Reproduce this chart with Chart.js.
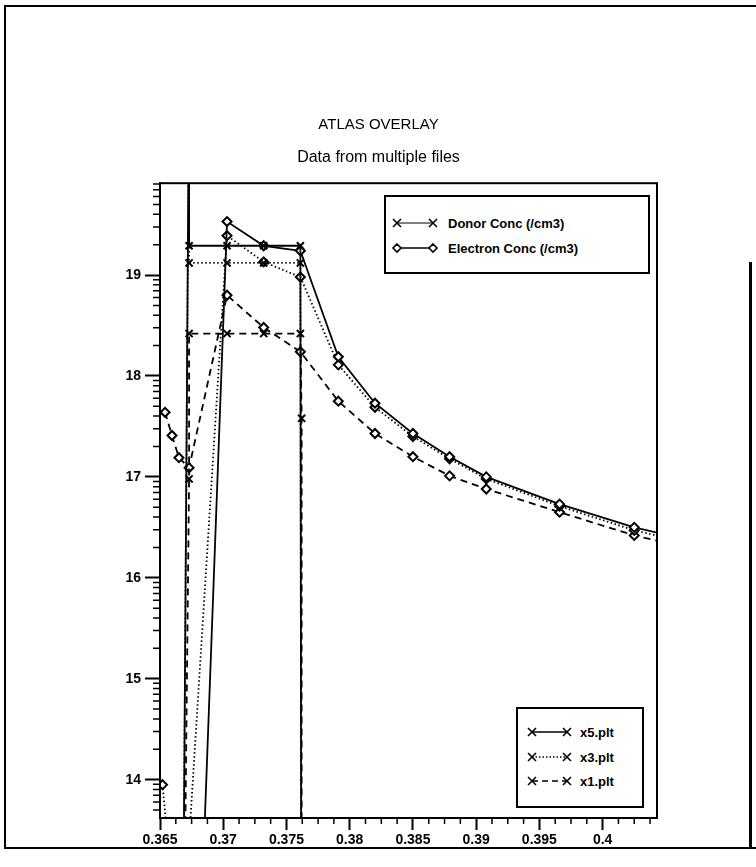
<!DOCTYPE html>
<html>
<head>
<meta charset="UTF-8">
<title>ATLAS OVERLAY</title>
<script src="https://cdn.jsdelivr.net/npm/chart.js"></script>
<style>
    body { margin: 0; background: #fff; }
    #wrap { position: relative; width: 756px; height: 867px; }
    #frame { position: absolute; left: 4px; top: 5px; width: 760px; height: 840px;
             border-left: 2px solid #000; border-top: 2px solid #000; border-bottom: 2px solid #000; }
    #rightbar { position: absolute; left: 749px; top: 262px; width: 3px; height: 585px; background: #000; }
    canvas { position: absolute; left: 0; top: 0; }
    svg.legend { position: absolute; }
    svg.legend text { font-family: "Liberation Sans", Arial, sans-serif; font-size: 13px; font-weight: bold; }
</style>
</head>
<body>
<div id="wrap">
    <div id="frame"></div>
    <div id="rightbar"></div>
    <canvas id="chart" width="756" height="867"></canvas>

    <!-- legend: quantities -->
    <svg class="legend" style="left:384px;top:195px" width="266" height="79">
        <rect x="1" y="1" width="264" height="77" fill="#fff" stroke="#000" stroke-width="2"/>
        <line x1="13" y1="28" x2="49" y2="28" stroke="#000" stroke-width="1.2"/>
        <path d="M9 24 L17 32 M17 24 L9 32 M45 24 L53 32 M53 24 L45 32" stroke="#000" stroke-width="1.6"/>
        <text x="64" y="33">Donor Conc (/cm3)</text>
        <line x1="13" y1="53" x2="49" y2="53" stroke="#000" stroke-width="1.4"/>
        <path d="M13 49 L17 53 L13 57 L9 53 Z M49 49 L53 53 L49 57 L45 53 Z" fill="#fff" stroke="#000" stroke-width="1.6"/>
        <text x="64" y="58">Electron Conc (/cm3)</text>
    </svg>

    <!-- legend: files -->
    <svg class="legend" style="left:516px;top:707px" width="128" height="101">
        <rect x="1" y="1" width="126" height="99" fill="#fff" stroke="#000" stroke-width="2"/>
        <g stroke="#000" stroke-width="1.6">
            <line x1="16" y1="25" x2="51" y2="25"/>
            <line x1="16" y1="50" x2="51" y2="50" stroke-dasharray="1.5 2"/>
            <line x1="16" y1="74" x2="51" y2="74" stroke-dasharray="6 4"/>
            <path d="M12 21 L20 29 M20 21 L12 29 M47 21 L55 29 M55 21 L47 29"/>
            <path d="M12 46 L20 54 M20 46 L12 54 M47 46 L55 54 M55 46 L47 54"/>
            <path d="M12 70 L20 78 M20 70 L12 78 M47 70 L55 78 M55 70 L47 78"/>
        </g>
        <text x="64" y="30">x5.plt</text>
        <text x="64" y="55">x3.plt</text>
        <text x="64" y="79">x1.plt</text>
    </svg>
</div>

<script>
    // tick values
    const xTicks = [0.365, 0.37, 0.375, 0.38, 0.385, 0.39, 0.395, 0.4];
    const yTicks = [14, 15, 16, 17, 18, 19];

    // donor concentration (log10 /cm3)
    const donorX5_x = [0.3667, 0.3673, 0.3673, 0.3703, 0.3732, 0.3761, 0.3762];
    const donorX5_y = [10.0, 21.0, 19.29, 19.29, 19.29, 19.29, 10.0];
    const donorX3_x = [0.3667, 0.3673, 0.3673, 0.3703, 0.3732, 0.3761, 0.3762];
    const donorX3_y = [10.0, 21.0, 19.12, 19.12, 19.12, 19.12, 10.0];
    const donorX1_x = [0.3667, 0.3673, 0.3673, 0.3703, 0.3732, 0.3761, 0.3762, 0.3762];
    const donorX1_y = [10.0, 16.98, 18.42, 18.42, 18.42, 18.42, 17.58, 10.0];

    // electron concentration (log10 /cm3)
    const elecX5_x = [0.3673, 0.3703, 0.3732, 0.3761, 0.3791, 0.3820, 0.3850, 0.3879, 0.3908, 0.3966, 0.4025, 0.4084];
    const elecX5_y = [9.4, 19.53, 19.29, 19.24, 18.19, 17.73, 17.43, 17.20, 17.00, 16.73, 16.50, 16.33];
    const elecX3_x = [0.3652, 0.3656, 0.3673, 0.3703, 0.3732, 0.3761, 0.3791, 0.3820, 0.3850, 0.3879, 0.3908, 0.3966, 0.4025, 0.4084];
    const elecX3_y = [13.95, 13.4, 13.4, 19.39, 19.13, 18.98, 18.11, 17.69, 17.40, 17.18, 16.98, 16.71, 16.47, 16.30];
    const elecX1_x = [0.3654, 0.36595, 0.3665, 0.3673, 0.3703, 0.3732, 0.3761, 0.3791, 0.3820, 0.3850, 0.3879, 0.3908, 0.3966, 0.4025, 0.4084];
    const elecX1_y = [17.64, 17.41, 17.19, 17.09, 18.80, 18.48, 18.24, 17.75, 17.43, 17.20, 17.01, 16.88, 16.65, 16.42, 16.25];

    const pts = (xs, ys) => xs.map((x, i) => ({ x: x, y: ys[i] }));
    const SOLID = [], DOTTED = [1.5, 2.5], DASHED = [7, 5];

    function series(xs, ys, dash, marker) {
        return {
            data: pts(xs, ys),
            showLine: true,
            borderColor: '#000',
            borderWidth: 1.8,
            borderDash: dash,
            pointStyle: marker,
            pointRadius: marker === 'crossRot' ? 5 : 4.5,
            pointBorderWidth: 2,
            pointBorderColor: '#000',
            pointBackgroundColor: '#fff',
            tension: 0
        };
    }

    // frame around plot + log minor ticks
    const framePlugin = {
        id: 'frame',
        afterDraw(chart) {
            const ctx = chart.ctx, a = chart.chartArea;
            const xs = chart.scales.x, ys = chart.scales.y;
            ctx.save();
            ctx.strokeStyle = '#000';
            ctx.lineWidth = 2;
            ctx.strokeRect(a.left, a.top, a.right - a.left, a.bottom - a.top);
            ctx.lineWidth = 1.5;
            ctx.beginPath();
            for (let n = 13; n <= 19; n++) {
                for (let k = 2; k <= 9; k++) {
                    const v = n + Math.log10(k);
                    if (v < ys.min || v > ys.max) continue;
                    const py = ys.getPixelForValue(v);
                    ctx.moveTo(a.left - 7, py);
                    ctx.lineTo(a.left, py);
                }
            }
            for (let i = 0; i < 40; i++) {
                const v = 0.365 + i * 0.00125;
                if (i % 4 === 0 || v > xs.max) continue;
                const px = xs.getPixelForValue(v);
                ctx.moveTo(px, a.bottom);
                ctx.lineTo(px, a.bottom + 6);
            }
            ctx.stroke();
            ctx.restore();
        }
    };

    const tickFont = { family: '"Liberation Sans", Arial, sans-serif', size: 14, weight: 'bold' };

    new Chart(document.getElementById('chart'), {
        type: 'scatter',
        data: {
            datasets: [
                series(donorX5_x, donorX5_y, SOLID, 'crossRot'),
                series(donorX3_x, donorX3_y, DOTTED, 'crossRot'),
                series(donorX1_x, donorX1_y, DASHED, 'crossRot'),
                series(elecX5_x, elecX5_y, SOLID, 'rectRot'),
                series(elecX3_x, elecX3_y, DOTTED, 'rectRot'),
                series(elecX1_x, elecX1_y, DASHED, 'rectRot')
            ]
        },
        options: {
            responsive: false,
            animation: false,
            layout: { padding: { left: 100, right: 99, top: 100, bottom: 19 } },
            plugins: {
                legend: { display: false },
                tooltip: { enabled: false },
                title: {
                    display: true,
                    text: 'ATLAS OVERLAY',
                    color: '#000',
                    font: { family: '"Liberation Sans", Arial, sans-serif', size: 15, weight: 'normal' },
                    padding: { top: 16, bottom: 8 }
                },
                subtitle: {
                    display: true,
                    text: 'Data from multiple files',
                    color: '#000',
                    font: { family: '"Liberation Sans", Arial, sans-serif', size: 16, weight: 'normal' },
                    padding: { top: 6, bottom: 16 }
                }
            },
            scales: {
                x: {
                    type: 'linear',
                    min: 0.365,
                    max: 0.4043,
                    afterBuildTicks: s => { s.ticks = xTicks.map(v => ({ value: v })); },
                    afterFit: s => { s.height = 30; },
                    ticks: {
                        color: '#000',
                        font: tickFont,
                        padding: 2,
                        maxRotation: 0,
                        callback: v => String(Number(v.toFixed(3)))
                    },
                    grid: { drawOnChartArea: false, tickLength: 12, tickWidth: 2, tickColor: '#000' },
                    border: { display: true, color: '#000', width: 2 }
                },
                y: {
                    type: 'linear',
                    min: 13.62,
                    max: 19.91,
                    afterBuildTicks: s => { s.ticks = yTicks.map(v => ({ value: v })); },
                    afterFit: s => { s.width = 60; },
                    ticks: { color: '#000', font: tickFont, padding: 4 },
                    grid: { drawOnChartArea: false, tickLength: 15, tickWidth: 2, tickColor: '#000' },
                    border: { display: true, color: '#000', width: 2 }
                }
            }
        },
        plugins: [framePlugin]
    });
</script>
</body>
</html>
